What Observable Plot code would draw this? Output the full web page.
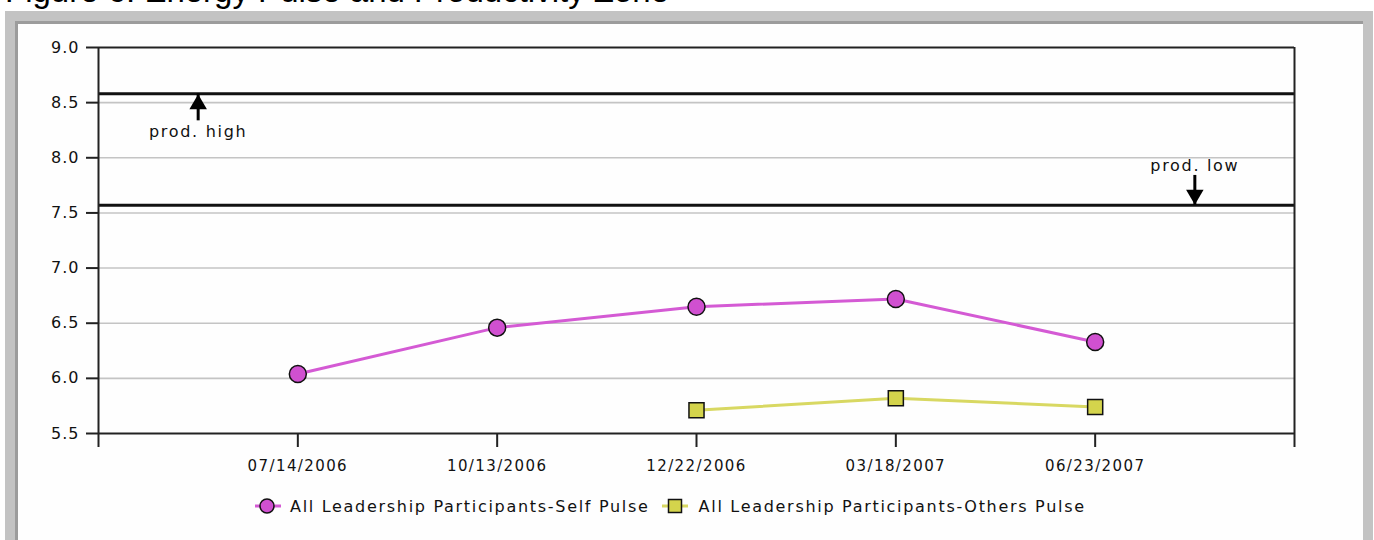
<!DOCTYPE html>
<html>
<head>
<meta charset="utf-8">
<script src="https://cdn.jsdelivr.net/npm/d3@7"></script>
<script src="https://cdn.jsdelivr.net/npm/@observablehq/plot@0.6"></script>
<style>
  html, body { margin: 0; padding: 0; background: #ffffff; width: 1374px; height: 540px; overflow: hidden; position: relative; font-family: "DejaVu Sans", sans-serif; }
  #title { position: absolute; left: 5px; top: -26px; font-family: "Liberation Sans", Arial, sans-serif; font-size: 33px; line-height: 33px; color: #000; white-space: nowrap; }
  #frame { position: absolute; left: 5px; top: 11px; width: 1348px; height: 540px; border: 10px solid #c3c3c3; box-shadow: inset 3px 3px 0 #9c9c9c; background: #fefefe; }
  #chart { position: absolute; left: 0; top: 0; }
  #chart svg { overflow: visible; }
  #chart text.annot { letter-spacing: 1.7px; }
  #chart g[aria-label="x-axis tick label"] text { letter-spacing: 1.4px; }
  #chart g[aria-label="y-axis tick label"] text { letter-spacing: 1px; }
  #legend { position: absolute; top: 496px; left: 255px; display: flex; align-items: center; font-size: 16px; letter-spacing: 1.7px; color: #111; white-space: nowrap; }
  #legend .item { display: flex; align-items: center; }
  #legend svg { display: block; }
</style>
</head>
<body>
<div id="title">Figure 6: Energy Pulse and Productivity Zone</div>
<div id="frame"></div>
<div id="chart"></div>
<div id="legend"></div>
<script>
// ---- data ----
const dateLabels = ["07/14/2006", "10/13/2006", "12/22/2006", "03/18/2007", "06/23/2007"];
const selfPulse = [6.04, 6.46, 6.65, 6.72, 6.33];
const othersPulse = [null, null, 5.71, 5.82, 5.74];
const yTicks = [5.5, 6.0, 6.5, 7.0, 7.5, 8.0, 8.5, 9.0];
const xSlots = [0, 1, 2, 3, 4, 5, 6];
const prodHigh = 8.58;
const prodLow = 7.57;
const seriesNames = ["All Leadership Participants-Self Pulse", "All Leadership Participants-Others Pulse"];
const annotations = [
  {label: "prod. high", slot: 0.5, value: prodHigh, dir: "up"},
  {label: "prod. low", slot: 5.5, value: prodLow, dir: "down"}
];

const selfColor = "#d050d0", selfLine = "#d45ad4";
const othersColor = "#d4d44c", othersLine = "#d8d862";

const rows = dateLabels.map((d, i) => ({slot: i + 1, label: d, self: selfPulse[i], others: othersPulse[i]}));
const selfRows = rows.filter(r => r.self != null);
const othersRows = rows.filter(r => r.others != null);

const plot = Plot.plot({
  width: 1374,
  height: 480,
  marginLeft: 98,
  marginRight: 80,
  marginTop: 47,
  marginBottom: 47,
  style: {fontFamily: "DejaVu Sans, sans-serif", fontSize: "16px", color: "#111", background: "transparent", overflow: "visible"},
  x: {domain: [0, 6]},
  y: {domain: [5.5, 9.0]},
  marks: [
    Plot.ruleY(yTicks.filter(v => v > 5.5 && v < 9.0), {stroke: "#c4c4c4", strokeWidth: 1.6}),
    Plot.ruleY([prodHigh, prodLow], {stroke: "#111", strokeWidth: 3}),
    Plot.ruleY([9.0, 5.5], {stroke: "#222", strokeWidth: 2}),
    Plot.ruleX([0, 6], {y1: 5.5, y2: 9.0, stroke: "#222", strokeWidth: 2}),
    Plot.axisY({ticks: yTicks, tickFormat: d3.format(".1f"), tickSize: 12, tickPadding: 7, stroke: "#222", strokeWidth: 2, label: null, fontSize: 16}),
    Plot.axisX({ticks: xSlots, tickFormat: i => dateLabels[i - 1] ?? "", tickSize: 14, tickPadding: 13, stroke: "#222", strokeWidth: 2, label: null, fontSize: 15}),
    // annotation arrows
    Plot.ruleX(annotations, {x: "slot", y1: "value", y2: d => d.dir === "up" ? d.value - 0.245 : d.value + 0.27, stroke: "#000", strokeWidth: 3}),
    Plot.dot(annotations, {x: "slot", y: "value", symbol: "triangle", r: 6.5, fill: "#000", stroke: "none",
      rotate: d => d.dir === "up" ? 0 : 180}),
    Plot.text(annotations, {x: "slot", y: "value", text: "label", fontSize: 16, fill: "#111"}),
    // series
    Plot.line(selfRows, {x: "slot", y: "self", stroke: selfLine, strokeWidth: 3}),
    Plot.line(othersRows, {x: "slot", y: "others", stroke: othersLine, strokeWidth: 3}),
    Plot.dot(selfRows, {x: "slot", y: "self", r: 8.5, fill: selfColor, stroke: "#111", strokeWidth: 1.5}),
    Plot.dot(othersRows, {x: "slot", y: "others", symbol: "square", r: 8.5, fill: othersColor, stroke: "#111", strokeWidth: 1.5})
  ]
});
document.getElementById("chart").appendChild(plot);

// offset annotation heads and labels in pixels from their threshold line
const svg = d3.select(plot);
const dotGroups = svg.selectAll("g[aria-label='dot']").nodes();
if (dotGroups.length) {
  d3.select(dotGroups[0]).selectAll("path").each(function(_, i) {
    const t = this.getAttribute("transform") || "";
    const dy = annotations[i].dir === "up" ? 10.5 : -10.5;
    this.setAttribute("transform", `translate(0,${dy}) ` + t);
  });
}
const textGroups = svg.selectAll("g[aria-label='text']").nodes();
if (textGroups.length) {
  d3.select(textGroups[0]).selectAll("text").each(function(_, i) {
    const dy = annotations[i].dir === "up" ? 38 : -39;
    this.setAttribute("transform", (this.getAttribute("transform") || "") + ` translate(0,${dy})`);
    this.setAttribute("class", "annot");
  });
}

// legend
const legend = d3.select("#legend");
const specs = [
  {name: seriesNames[0], symbol: "circle", fill: selfColor, line: selfLine, gap: 0, textGap: 7},
  {name: seriesNames[1], symbol: "square", fill: othersColor, line: othersLine, gap: 12, textGap: 9}
];
specs.forEach(s => {
  const item = legend.append("div").attr("class", "item").style("margin-left", s.gap + "px");
  const sv = item.append("svg").attr("width", 28).attr("height", 20);
  sv.append("line").attr("x1", 0).attr("x2", 26).attr("y1", 10).attr("y2", 10).attr("stroke", s.line).attr("stroke-width", 3);
  if (s.symbol === "circle") {
    sv.append("circle").attr("cx", 12).attr("cy", 10).attr("r", 7).attr("fill", s.fill).attr("stroke", "#111").attr("stroke-width", 1.5);
  } else {
    sv.append("rect").attr("x", 6.5).attr("y", 3.5).attr("width", 13).attr("height", 13).attr("fill", s.fill).attr("stroke", "#111").attr("stroke-width", 1.5);
  }
  item.append("span").style("margin-left", s.textGap + "px").text(s.name);
});
</script>
</body>
</html>
